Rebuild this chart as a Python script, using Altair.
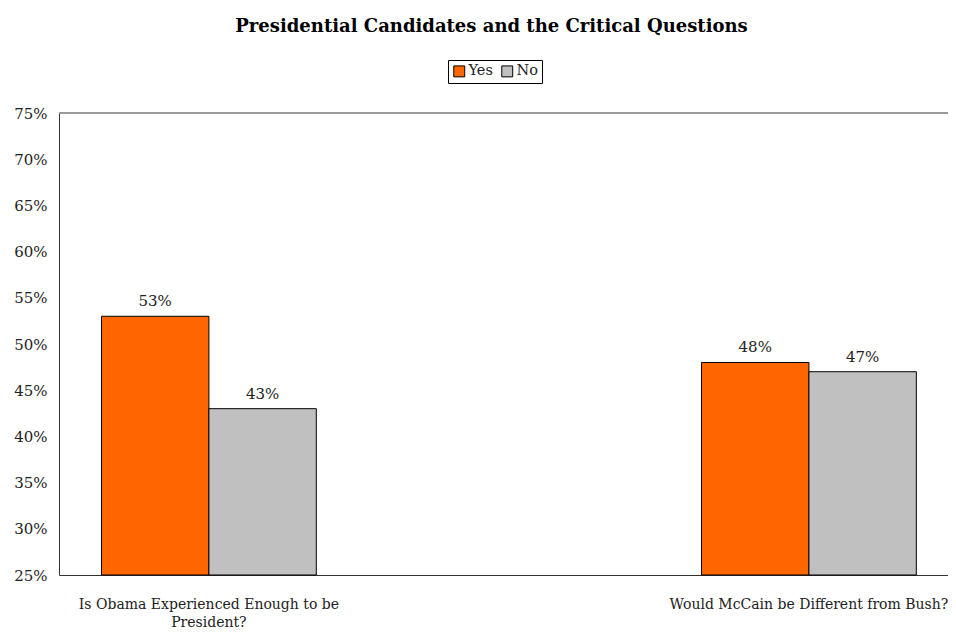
import altair as alt
import pandas as pd

categories = ["Is Obama Experienced Enough to be President?", "Would McCain be Different from Bush?"]
series = ["Yes", "No"]
yes_values = [0.53, 0.48]
no_values = [0.43, 0.47]
colors = ["#FF6600", "#C0C0C0"]

rows = []
for i, c in enumerate(categories):
    rows.append({"question": c, "answer": "Yes", "value": yes_values[i]})
    rows.append({"question": c, "answer": "No", "value": no_values[i]})
df = pd.DataFrame(rows)

FONT = "DejaVu Serif"
TXT = "#222"

x = alt.X("question:N", sort=categories, title=None,
          scale=alt.Scale(paddingInner=0.642, paddingOuter=0.0618, align=0.573),
          axis=alt.Axis(labelAngle=0, labelFont=FONT, labelFontSize=14, labelColor=TXT,
                        labelLimit=500, ticks=False, labelPadding=22, labelLineHeight=18,
                        domainColor="#333",
                        labelExpr="datum.value == 'Is Obama Experienced Enough to be President?' ? ['Is Obama Experienced Enough to be', 'President?'] : datum.value"))
xo = alt.XOffset("answer:N", sort=series, scale=alt.Scale(paddingInner=0, paddingOuter=0))
y = alt.Y("value:Q", title=None,
          scale=alt.Scale(domain=[0.25, 0.75], zero=False, nice=False),
          axis=alt.Axis(format=".0%", values=[0.25 + 0.05 * k for k in range(11)],
                        labelFont=FONT, labelFontSize=15, labelColor=TXT, ticks=False,
                        labelPadding=12, grid=False, domainColor="#333"))
color = alt.Color("answer:N", sort=series,
                  scale=alt.Scale(domain=series, range=colors),
                  legend=alt.Legend(title=None, orient="none", legendX=389, legendY=-53,
                                    direction="horizontal", symbolType="square", symbolSize=120,
                                    symbolStrokeColor="black", symbolStrokeWidth=1, symbolOpacity=1,
                                    labelFont=FONT, labelFontSize=14.5, labelColor=TXT,
                                    strokeColor="black", padding=4, columnPadding=6,
                                    labelOffset=2, fillColor="white"))

bars = alt.Chart(df).mark_bar(stroke="black", strokeWidth=1, opacity=1).encode(
    x=x, xOffset=xo, y=y, y2=alt.datum(0.25), color=color)

labels = alt.Chart(df).mark_text(baseline="bottom", dy=-7, font=FONT, fontSize=15, color=TXT).encode(
    x=x, xOffset=xo, y=y, text=alt.Text("value:Q", format=".0%"))

top_border = alt.Chart(df).mark_rule(color="#999", strokeWidth=1.5).encode(y=alt.datum(0.75))

chart = alt.layer(bars, labels, top_border).properties(
    width=889, height=462,
    title=alt.TitleParams("Presidential Candidates and the Critical Questions",
                          font=FONT, fontSize=18, fontWeight="bold", color="black",
                          anchor="middle", dx=-12, offset=24),
    autosize=alt.AutoSizeParams(type="none"),
    padding={"left": 51, "top": 105, "right": 0, "bottom": 56},
).configure_view(stroke=None)

chart.save("out.html", embed_options={"renderer": "svg", "actions": False})
